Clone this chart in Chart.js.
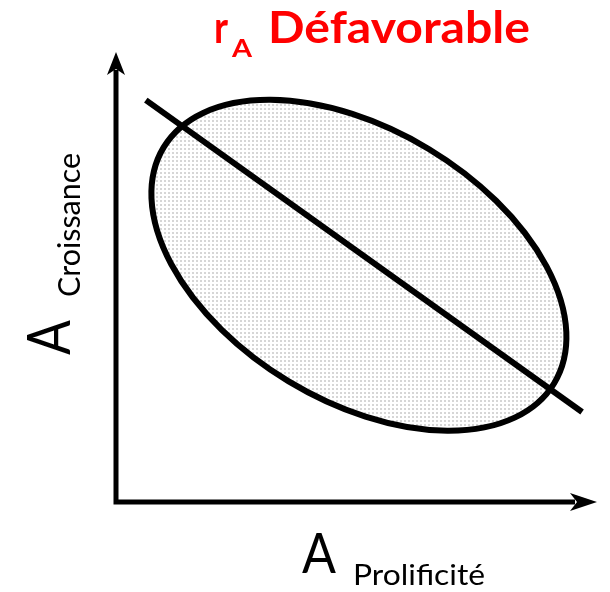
<!DOCTYPE html>
<html>
<head>
<meta charset="utf-8">
<script src="https://cdn.jsdelivr.net/npm/chart.js@4.4.1/dist/chart.umd.min.js"></script>
<style>
  html, body { margin: 0; padding: 0; background: #fff; }
</style>
</head>
<body>
<canvas id="sketch" width="610" height="592"></canvas>
<script>
// regression line (data units, 0..100 on both axes)
const lineX = [6.2, 96.9];
const lineY = [89.3, 20.0];

// ellipse: center + two conjugate half-axes, in data units
const ellipseCenter = [50.5, 52.6];
const ellipseMajor = [40.6, -26.2];
const ellipseMinor = [-14.6, -25.8];

const titleParts = ["r", "A", "Défavorable"];
const xLabel = ["A", "Prolificité"];
const yLabel = ["A", "Croissance"];

const ctx = document.getElementById("sketch").getContext("2d");

// dotted grey fill like the original
const tile = document.createElement("canvas");
tile.width = 4;
tile.height = 4;
const tctx = tile.getContext("2d");
tctx.fillStyle = "#ffffff";
tctx.fillRect(0, 0, 4, 4);
tctx.fillStyle = "#d6d6d6";
tctx.fillRect(0, 0, 2, 2);
const dots = ctx.createPattern(tile, "repeat");

function fitText(c, text, x, y, font, width) {
    c.save();
    c.font = font;
    const w = c.measureText(text).width;
    c.translate(x, y);
    c.scale(width / w, 1);
    c.fillText(text, 0, 0);
    c.restore();
}

const sketchPlugin = {
    id: "sketch",
    beforeDatasetsDraw(chart) {
        const c = chart.ctx;
        const xs = chart.scales.x, ys = chart.scales.y;
        const area = chart.chartArea;

        // ellipse
        const cx = xs.getPixelForValue(ellipseCenter[0]);
        const cy = ys.getPixelForValue(ellipseCenter[1]);
        const ux = xs.getPixelForValue(ellipseCenter[0] + ellipseMajor[0]) - cx;
        const uy = ys.getPixelForValue(ellipseCenter[1] + ellipseMajor[1]) - cy;
        const vx = xs.getPixelForValue(ellipseCenter[0] + ellipseMinor[0]) - cx;
        const vy = ys.getPixelForValue(ellipseCenter[1] + ellipseMinor[1]) - cy;
        c.save();
        c.beginPath();
        c.save();
        c.transform(ux, uy, vx, vy, cx, cy);
        c.arc(0, 0, 1, 0, Math.PI * 2);
        c.restore();
        c.fillStyle = dots;
        c.fill();
        c.lineWidth = 6;
        c.strokeStyle = "#000";
        c.stroke();
        c.restore();

        // axes with arrows
        const x0 = area.left, y0 = area.bottom;
        c.save();
        c.strokeStyle = "#000";
        c.fillStyle = "#000";
        c.lineWidth = 5;
        c.beginPath();
        c.moveTo(x0, y0 + 2.5);
        c.lineTo(x0, area.top + 18);
        c.moveTo(x0 - 2.5, y0);
        c.lineTo(area.right - 22, y0);
        c.stroke();

        c.beginPath();
        c.moveTo(x0, area.top);
        c.lineTo(x0 - 9, area.top + 23);
        c.lineTo(x0, area.top + 17);
        c.lineTo(x0 + 9, area.top + 23);
        c.closePath();
        c.fill();

        c.beginPath();
        c.moveTo(area.right, y0);
        c.lineTo(area.right - 27, y0 - 9);
        c.lineTo(area.right - 20, y0);
        c.lineTo(area.right - 27, y0 + 9);
        c.closePath();
        c.fill();
        c.restore();
    },
    afterDraw(chart) {
        const c = chart.ctx;
        c.save();
        c.textBaseline = "alphabetic";
        c.textAlign = "left";

        // title
        c.fillStyle = "#ff0000";
        fitText(c, titleParts[0], 214, 43, "bold 43px Lato", 14);
        fitText(c, titleParts[1], 232, 57, "bold 24px Lato", 20);
        fitText(c, titleParts[2], 268, 43, "bold 43px Lato", 262);

        // axis labels
        c.fillStyle = "#000";
        fitText(c, xLabel[0], 302, 573, "56px Lato", 34);
        fitText(c, xLabel[1], 353, 585, "28px Lato", 132);

        c.save();
        c.translate(70, 355);
        c.rotate(-Math.PI / 2);
        fitText(c, yLabel[0], 0, 0, "60px Lato", 35);
        c.restore();
        c.save();
        c.translate(80, 297);
        c.rotate(-Math.PI / 2);
        fitText(c, yLabel[1], 0, 0, "30px Lato", 144);
        c.restore();

        c.restore();
    }
};

new Chart(ctx, {
    type: "scatter",
    data: {
        datasets: [{
            data: lineX.map((x, i) => ({ x: x, y: lineY[i] })),
            showLine: true,
            borderColor: "#000",
            borderWidth: 6,
            borderCapStyle: "butt",
            pointRadius: 0,
            pointHoverRadius: 0
        }]
    },
    options: {
        responsive: false,
        animation: false,
        layout: { padding: { left: 116, right: 13, top: 52, bottom: 90 } },
        scales: {
            x: { type: "linear", min: 0, max: 100, display: false },
            y: { type: "linear", min: 0, max: 100, display: false }
        },
        plugins: {
            legend: { display: false },
            tooltip: { enabled: false }
        }
    },
    plugins: [sketchPlugin]
});
</script>
</body>
</html>
